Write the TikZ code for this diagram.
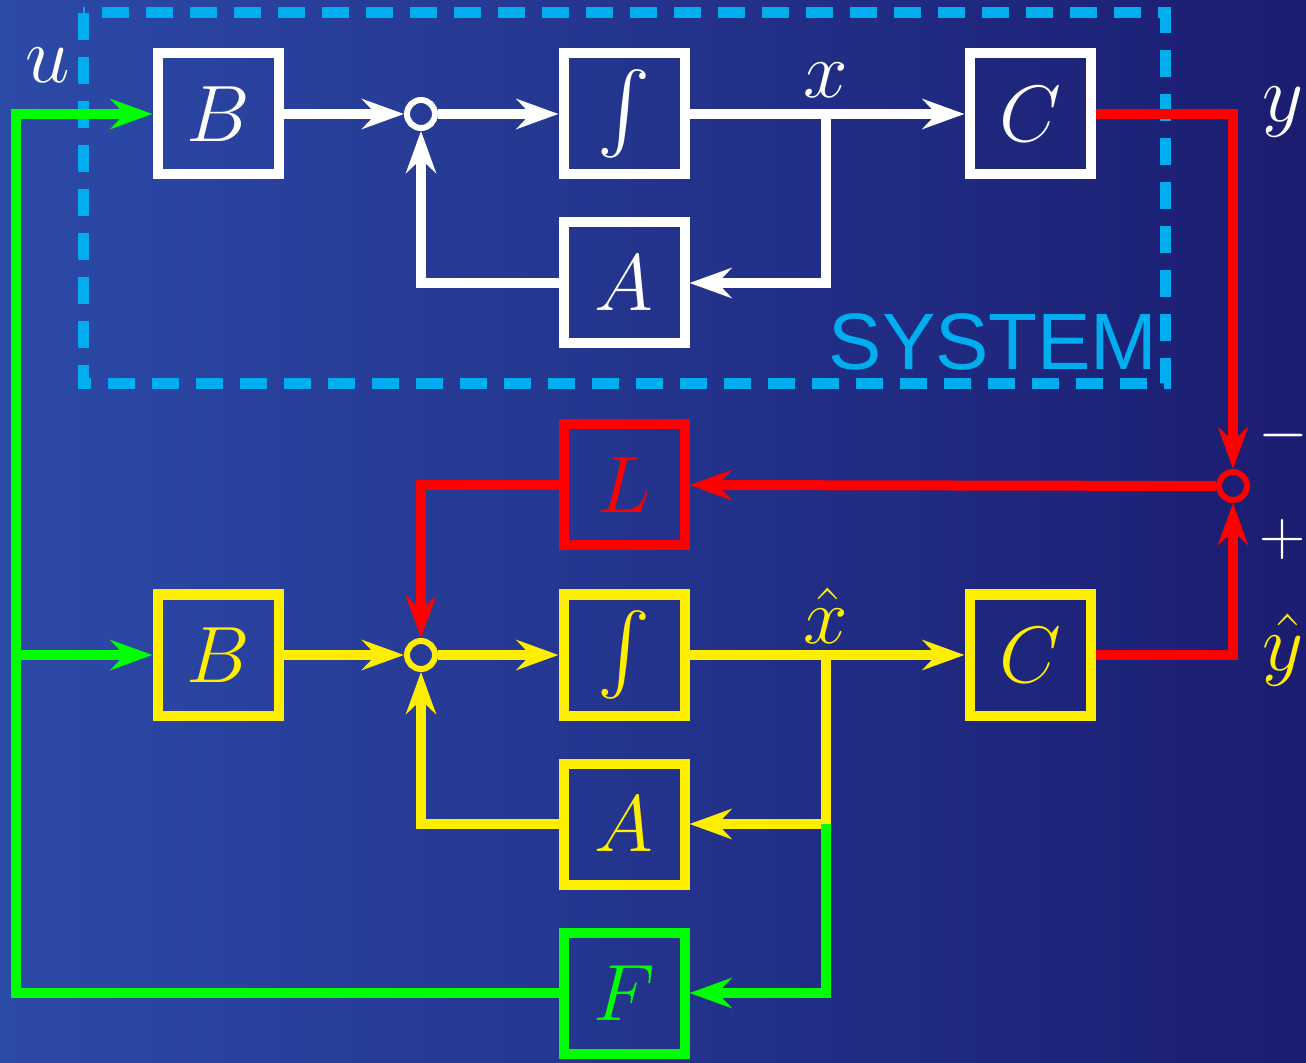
\RequirePackage{fix-cm}
\documentclass[tikz,border=0pt]{standalone}
\DeclareFontShape{OMX}{cmex}{m}{n}{<-> cmex10}{}
\usepackage{fontspec}
\newfontfamily\sysfont{Liberation Sans}
\usetikzlibrary{arrows.meta}
\definecolor{bgL}{RGB}{44,74,168}
\definecolor{bgR}{RGB}{27,29,112}
\definecolor{cyanS}{RGB}{0,174,239}
\definecolor{yel}{RGB}{255,238,0}
\definecolor{grn}{RGB}{0,255,0}
\definecolor{rd}{RGB}{255,0,0}
\tikzset{
  blk/.style={draw, line width=5pt, minimum size=60.5pt, inner sep=0pt, font=\fontsize{40}{48}\selectfont},
  sumnode/.style={draw, circle, line width=3pt, minimum size=14pt, inner sep=0pt},
  conn/.style={line width=5pt},
  tip/.style={-{Stealth[length=21pt, width=15pt, inset=7pt]}},
  lbl/.style={font=\fontsize{40}{48}\selectfont, inner sep=0pt},
  sgn/.style={font=\fontsize{32}{38}\selectfont, inner sep=0pt}
}
\begin{document}
\begin{tikzpicture}[x=0.5pt, y=-0.5pt]
\useasboundingbox (0,0) rectangle (1306,1063);
\shade[left color=bgL, right color=bgR] (0,0) rectangle (1306,1063);

% system boundary
\draw[cyanS, line width=5.5pt, dash pattern=on 13.5pt off 8.5pt] (83,13) rectangle (1165,384);
\node[cyanS, anchor=base east, inner sep=0pt, font=\sysfont\fontsize{40}{48}\selectfont] (sys) at (1158,370) {SYSTEM};

% top system (white)
\node[blk, white] (B1) at (218,114) {$B$};
\node[blk, white] (I1) at (624,114) {$\int$};
\node[blk, white] (C1) at (1030,114) {$C$};
\node[blk, white] (A1) at (624,283) {$A$};
\node[sumnode, white] (S1) at (421,114) {};
\coordinate (X1) at (826,114);
\draw[conn, white, tip] (B1.east) -- (S1.west);
\draw[conn, white, tip] (S1.east) -- (I1.west);
\draw[conn, white, tip] (I1.east) -- (C1.west);
\draw[conn, white, tip] (X1) |- (A1.east);
\draw[conn, white, tip] (A1.west) -| (S1.south);
\node[lbl, white] (lx) at (826,80) {$x$};

% observer (yellow)
\node[blk, yel] (B2) at (218,655) {$B$};
\node[blk, yel] (I2) at (624,655) {$\int$};
\node[blk, yel] (C2) at (1030,655) {$C$};
\node[blk, yel] (A2) at (624,824) {$A$};
\node[sumnode, yel] (S2) at (421,655) {};
\coordinate (X2) at (826,655);
\coordinate (Y2) at (826,824);
\draw[conn, yel, tip] (B2.east) -- (S2.west);
\draw[conn, yel, tip] (S2.east) -- (I2.west);
\draw[conn, yel, tip] (I2.east) -- (C2.west);
\draw[conn, yel] (X2) -- (Y2);
\draw[conn, yel, tip] (Y2) -- (A2.east);
\draw[conn, yel, tip] (A2.west) -| (S2.south);
\node[lbl, yel] (lxh) at (826,616) {$\hat{x}$};

% output error (red)
\node[blk, rd] (L) at (624,485) {$L$};
\node[sumnode, rd] (S3) at (1233,486) {};
\draw[conn, rd, tip] (C1.east) -| (S3.north);
\draw[conn, rd, tip] (C2.east) -| (S3.south);
\draw[conn, rd, tip] (S3.west) -- (L.east);
\draw[conn, rd, tip] (L.west) -| (S2.north);
\node[lbl, white] (ly) at (1283,112) {$y$};
\node[lbl, yel] (lyh) at (1283,650) {$\hat{y}$};
\node[sgn, white] (lm) at (1283,436) {$-$};
\node[sgn, white] (lp) at (1283,540) {$+$};

% state feedback (green)
\node[blk, grn] (F) at (624,993) {$F$};
\coordinate (GB) at (16,993);
\coordinate (GM) at (16,655);
\coordinate (GT) at (16,114);
\draw[conn, grn, tip] (Y2) |- (F.east);
\draw[conn, grn, tip] (F.west) -- (GB) -- (GT) -- (B1.west);
\draw[conn, grn, tip] (GM) -- (B2.west);
\node[lbl, white] (lu) at (48,65) {$u$};
\end{tikzpicture}
\end{document}
